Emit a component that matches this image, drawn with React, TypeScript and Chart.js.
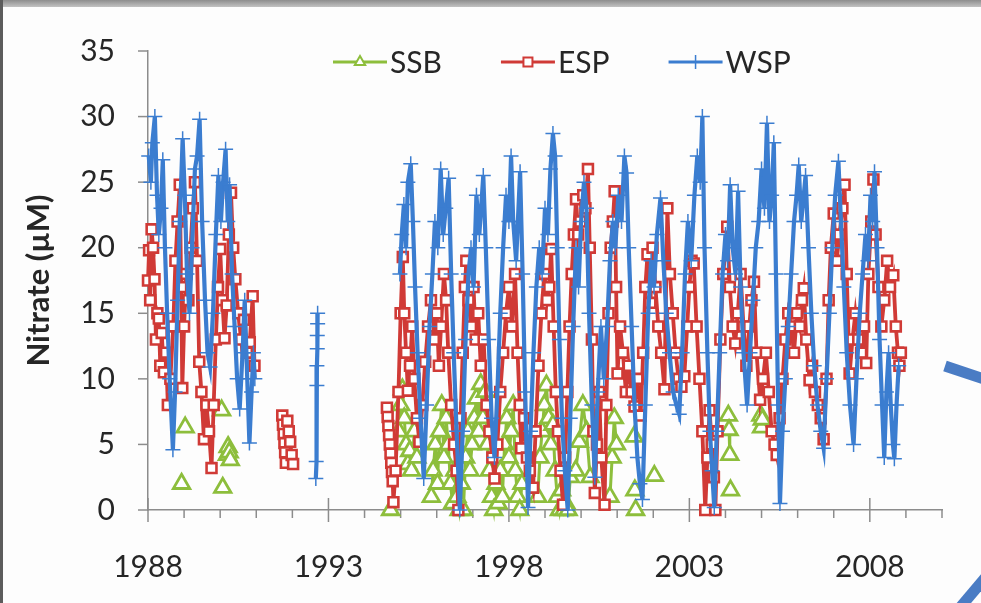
import React, { useEffect, useRef } from "react";
import { Chart, registerables } from "chart.js";

Chart.register(...registerables);

// ---------- data ----------
const X_MIN = 1988;
const X_MAX = 2010;
const Y_MIN = 0;
const Y_MAX = 35;
const Y_STEP = 5;
const xLabelYears = [1988, 1993, 1998, 2003, 2008];
const yAxisTitle = "Nitrate (µM)";
const seriesNames = ["SSB", "ESP", "WSP"];

type Pt = [number, number | null];

const ssbPoints: Pt[] = [
  [1988.93, 2.0], [1988.98, null], [1989.03, 6.3], [1989.5, null],
  [1990.04, 7.6], [1990.05, null], [1990.07, 1.7], [1990.12, null],
  [1990.2, 4.2], [1990.22, 4.8], [1990.25, 4.4], [1990.28, 3.8], [1991, null],
  [1994.72, 0], [1994.8, null],
  [1994.95, 6], [1995.0, 8], [1995.05, 9.2], [1995.1, 7], [1995.15, 5], [1995.2, 3.5], [1995.25, 4.5], [1995.3, 3], [1995.38, 6], [1995.45, 4], [1995.6, null],
  [1995.85, 1], [1995.9, 3], [1995.96, 5], [1996.02, 2], [1996.08, 6], [1996.14, 8], [1996.2, 4], [1996.26, 7], [1996.32, 5], [1996.38, 2], [1996.44, 0.5], [1996.5, 3], [1996.56, 1], [1996.62, 0], [1996.68, 2], [1996.74, 0], [1996.8, 4], [1996.86, 6], [1996.92, 3], [1996.98, 5], [1997.04, 7], [1997.1, 8.5], [1997.16, 6], [1997.22, 9.6], [1997.28, 7], [1997.34, 9], [1997.4, 5], [1997.46, 3], [1997.52, 1], [1997.58, 0], [1997.64, 2], [1997.7, 0.5], [1997.76, 3], [1997.82, 1], [1997.88, 5], [1997.94, 7], [1998.0, 4], [1998.06, 6], [1998.12, 8], [1998.18, 3], [1998.24, 1], [1998.3, 0], [1998.36, 2], [1998.5, null],
  [1998.8, 1], [1998.86, 4], [1998.92, 6], [1998.98, 8], [1999.04, 9.5], [1999.1, 7], [1999.16, 5], [1999.22, 6.5], [1999.28, 3], [1999.34, 1], [1999.4, 0], [1999.46, 1.5], [1999.52, 0], [1999.58, 0.5], [1999.64, 0], [1999.7, 2.5], [1999.77, null],
  [1999.85, 3], [1999.95, 5.2], [2000.05, 8], [2000.15, 6], [2000.25, 2.5], [2000.5, null],
  [2000.8, 1], [2000.86, 4], [2000.92, 7], [2000.98, 5], [2001.2, null],
  [2001.47, 5.6], [2001.48, null], [2001.49, 1.5], [2001.5, null], [2001.51, 0], [2001.7, null],
  [2002.03, 2.6], [2002.5, null],
  [2004.08, 7.2], [2004.1, 6.1], [2004.12, 4.2], [2004.13, null], [2004.14, 1.5], [2004.5, null],
  [2004.98, 7.2], [2005.0, 6.3], [2005.02, 6.9],
];

const espPoints: Pt[] = [
  [1988.0, 17.5], [1988.03, 19.8], [1988.06, 16], [1988.1, 21.4], [1988.14, 20], [1988.18, 17.6], [1988.22, 13], [1988.26, 15], [1988.3, 14.6], [1988.34, 11], [1988.38, 13.5], [1988.44, 10.5], [1988.5, 12], [1988.55, 8], [1988.62, 10], [1988.7, 14], [1988.76, 19], [1988.82, 22], [1988.88, 24.8], [1988.92, 17], [1988.95, 9.3], [1989.0, 14], [1989.06, 18], [1989.12, 16], [1989.18, 20], [1989.24, 23], [1989.3, 25], [1989.36, 19], [1989.42, 11.3], [1989.48, 9], [1989.55, 5.4], [1989.62, 8], [1989.69, 6], [1989.76, 3.2], [1989.82, 8], [1989.88, 13], [1989.94, 17], [1990.0, 19.9], [1990.06, 16], [1990.12, 13.1], [1990.18, 15.6], [1990.24, 21], [1990.3, 24.2], [1990.36, 20], [1990.42, 17.6], [1990.5, 15], [1990.58, 13], [1990.66, 14.5], [1990.74, 12], [1990.82, 12.8], [1990.9, 16.3], [1990.95, 11], [1991.3, null],
  [1991.72, 7.2], [1991.74, 6.5], [1991.76, 5.8], [1991.78, 5.1], [1991.8, 4.4], [1991.82, 3.6], [1991.86, 6.8], [1991.9, 6.0], [1991.94, 5.2], [1991.98, 4.2], [1992.02, 3.5], [1993, null],
  [1994.62, 7.8], [1994.64, 7.1], [1994.66, 6.4], [1994.68, 5.7], [1994.7, 5], [1994.72, 4.3], [1994.74, 3.6], [1994.76, 2.9], [1994.78, 2.2], [1994.8, 0.6], [1994.86, 3], [1994.94, 9], [1995.0, 15], [1995.06, 19.3], [1995.1, 15], [1995.15, 12], [1995.2, 9.1], [1995.26, 11], [1995.32, 14], [1995.38, 10], [1995.45, 7], [1995.52, 5.2], [1995.6, 8], [1995.68, 11.3], [1995.76, 14], [1995.84, 16], [1995.92, 13], [1996.0, 15], [1996.06, 11], [1996.12, 14], [1996.2, 18], [1996.26, 16], [1996.32, 12], [1996.4, 8], [1996.48, 5], [1996.55, 3], [1996.6, 0], [1996.66, 7], [1996.72, 12], [1996.78, 17], [1996.82, 19], [1996.88, 16], [1996.95, 14], [1997.02, 17], [1997.08, 13], [1997.15, 15], [1997.22, 11], [1997.3, 13], [1997.38, 8], [1997.46, 6], [1997.54, 4], [1997.6, 2.4], [1997.68, 5], [1997.76, 9], [1997.84, 12], [1997.92, 15], [1998.0, 17], [1998.08, 14], [1998.17, 18], [1998.24, 12], [1998.3, 8], [1998.34, 4.7], [1998.42, 7], [1998.5, 4], [1998.58, 3], [1998.67, 1.7], [1998.74, 6], [1998.82, 11], [1998.9, 15], [1998.98, 18], [1999.06, 16], [1999.12, 17], [1999.17, 19.9], [1999.24, 14], [1999.3, 9], [1999.36, 6], [1999.43, 3], [1999.5, 0.4], [1999.56, 4], [1999.62, 9], [1999.68, 14], [1999.74, 18], [1999.8, 21], [1999.86, 23.7], [1999.92, 21], [1999.98, 22], [2000.06, 24], [2000.12, 23], [2000.19, 26], [2000.24, 20], [2000.3, 13], [2000.34, 6], [2000.38, 1.3], [2000.44, 5], [2000.5, 9], [2000.56, 4], [2000.65, 0.4], [2000.7, 8], [2000.76, 15], [2000.82, 20], [2000.88, 22], [2000.93, 24.3], [2000.97, 17], [2001.01, 10.4], [2001.08, 14], [2001.16, 12], [2001.24, 9], [2001.32, 11], [2001.4, 9], [2001.48, 7.9], [2001.56, 10], [2001.65, 7.2], [2001.72, 12], [2001.78, 17], [2001.84, 19.5], [2001.92, 15.8], [2001.98, 20], [2002.06, 17], [2002.14, 14], [2002.22, 12], [2002.31, 9.2], [2002.39, 23], [2002.46, 18], [2002.54, 15], [2002.62, 12], [2002.7, 10], [2002.78, 9.4], [2002.86, 10.2], [2002.94, 14], [2003.0, 17], [2003.06, 19], [2003.12, 18.8], [2003.2, 14], [2003.28, 10], [2003.36, 6], [2003.44, 0], [2003.5, 4], [2003.56, 7.6], [2003.62, 5], [2003.68, 2.5], [2003.72, 0], [2003.78, 6], [2003.86, 13], [2003.94, 18], [2004.05, 21.6], [2004.12, 17], [2004.2, 14], [2004.27, 12.7], [2004.34, 15], [2004.42, 18], [2004.5, 14], [2004.58, 11], [2004.66, 14], [2004.72, 16], [2004.79, 17.4], [2004.86, 12], [2004.96, 8.4], [2005.04, 10], [2005.12, 12], [2005.2, 9], [2005.28, 6], [2005.36, 5], [2005.42, 4.2], [2005.5, 7], [2005.58, 10], [2005.66, 13], [2005.74, 15], [2005.82, 14], [2005.9, 12], [2005.98, 15], [2006.06, 14], [2006.12, 16], [2006.17, 16.9], [2006.24, 13], [2006.33, 9.9], [2006.4, 11], [2006.48, 9], [2006.56, 8], [2006.64, 7], [2006.72, 5.4], [2006.8, 10], [2006.86, 16], [2006.92, 20], [2007.0, 22.6], [2007.08, 19], [2007.16, 21], [2007.24, 23], [2007.3, 24.8], [2007.36, 18], [2007.44, 10.4], [2007.52, 13], [2007.6, 15], [2007.68, 13], [2007.76, 12], [2007.84, 14], [2007.9, 11.2], [2007.96, 18], [2008.04, 22], [2008.1, 25.2], [2008.16, 21], [2008.24, 17], [2008.32, 14], [2008.4, 16], [2008.48, 19], [2008.56, 17], [2008.65, 17.9], [2008.72, 14], [2008.78, 12], [2008.82, 11], [2008.86, 12],
];

const wspPoints: Pt[] = [
  [1988.02, 27], [1988.08, 25], [1988.12, 28], [1988.19, 30], [1988.25, 24], [1988.3, 21], [1988.36, 23], [1988.41, 26.7], [1988.47, 20], [1988.53, 15], [1988.6, 10], [1988.69, 4.6], [1988.75, 9], [1988.82, 16], [1988.88, 22], [1988.96, 28.3], [1989.02, 24], [1989.08, 18], [1989.15, 15], [1989.22, 20], [1989.3, 26], [1989.36, 27], [1989.43, 29.8], [1989.5, 22], [1989.58, 16], [1989.65, 12], [1989.72, 10.9], [1989.8, 15], [1989.88, 21], [1989.95, 25.5], [1990.02, 22], [1990.08, 25], [1990.15, 27.5], [1990.21, 22], [1990.26, 24.8], [1990.33, 18], [1990.4, 14], [1990.47, 10], [1990.54, 7.7], [1990.62, 12], [1990.68, 16], [1990.75, 10], [1990.81, 5.1], [1990.87, 9], [1990.92, 12], [1990.96, 10], [1991.5, null],
  [1992.7, 15], [1992.7, 14.2], [1992.69, 13.3], [1992.69, 12.3], [1992.68, 11], [1992.68, 9.5], [1992.66, 3.7], [1992.65, 2.4], [1993.5, null],
  [1994.98, 18], [1995.03, 21], [1995.09, 23.3], [1995.15, 20], [1995.2, 25], [1995.28, 26.4], [1995.34, 22], [1995.4, 17], [1995.47, 12], [1995.55, 7], [1995.64, 2.4], [1995.72, 8], [1995.8, 14], [1995.88, 18], [1995.95, 22], [1996.03, 20], [1996.11, 26], [1996.18, 21], [1996.25, 23], [1996.33, 25.3], [1996.4, 18], [1996.47, 12], [1996.55, 6], [1996.64, 0], [1996.72, 6], [1996.8, 13], [1996.88, 18], [1996.95, 20], [1997.02, 17], [1997.1, 24], [1997.18, 21], [1997.29, 25.5], [1997.36, 20], [1997.44, 13], [1997.52, 7], [1997.6, 4], [1997.68, 9], [1997.76, 15], [1997.84, 20], [1997.92, 24], [1998.0, 22], [1998.06, 27], [1998.12, 22], [1998.2, 19], [1998.31, 25.8], [1998.38, 18], [1998.45, 9], [1998.53, 0.2], [1998.6, 6], [1998.68, 12], [1998.76, 17], [1998.84, 20], [1998.92, 18], [1999.0, 23], [1999.08, 21], [1999.15, 26], [1999.22, 28.7], [1999.28, 27], [1999.34, 20], [1999.4, 13], [1999.47, 7], [1999.55, 3], [1999.63, 0], [1999.7, 7], [1999.78, 14], [1999.86, 20], [1999.93, 17], [2000.0, 22], [2000.08, 25], [2000.15, 23], [2000.22, 15], [2000.3, 8], [2000.38, 2.5], [2000.46, 9], [2000.55, 14], [2000.63, 10], [2000.72, 14], [2000.8, 19], [2000.88, 22], [2000.95, 20], [2001.03, 24], [2001.12, 22], [2001.2, 27], [2001.26, 25.7], [2001.32, 20], [2001.4, 14], [2001.48, 8], [2001.56, 4], [2001.63, 2], [2001.7, 0.8], [2001.78, 8], [2001.86, 15], [2001.94, 19], [2002.02, 17], [2002.1, 21], [2002.2, 23.8], [2002.28, 19], [2002.36, 15], [2002.45, 12], [2002.55, 9], [2002.64, 8], [2002.72, 7.3], [2002.8, 12], [2002.88, 18], [2002.96, 22], [2003.05, 19], [2003.14, 24], [2003.22, 27], [2003.3, 25], [2003.36, 30], [2003.42, 20], [2003.5, 12], [2003.57, 6], [2003.63, 3], [2003.69, 0.2], [2003.76, 6], [2003.84, 12], [2003.92, 18], [2004.0, 21], [2004.06, 19], [2004.13, 24.8], [2004.2, 20], [2004.28, 18], [2004.35, 24.3], [2004.42, 17], [2004.5, 12], [2004.6, 8], [2004.68, 12], [2004.76, 16], [2004.84, 20], [2004.92, 22], [2005.0, 26], [2005.08, 23], [2005.15, 29.5], [2005.22, 22], [2005.28, 24], [2005.34, 28], [2005.4, 18], [2005.46, 8], [2005.51, 0.5], [2005.58, 6], [2005.66, 10], [2005.74, 14], [2005.82, 18], [2005.9, 22], [2005.97, 24], [2006.03, 26.3], [2006.1, 22], [2006.17, 24], [2006.22, 25.5], [2006.3, 20], [2006.38, 15], [2006.46, 11], [2006.55, 8], [2006.64, 6], [2006.72, 4.7], [2006.8, 10], [2006.88, 15], [2006.96, 20], [2007.04, 24], [2007.13, 26.6], [2007.2, 22], [2007.28, 17], [2007.36, 12], [2007.45, 8], [2007.55, 5], [2007.63, 10], [2007.72, 15], [2007.8, 18], [2007.88, 21], [2007.95, 19], [2008.02, 24], [2008.08, 22], [2008.13, 25.8], [2008.2, 20], [2008.27, 13], [2008.34, 8], [2008.4, 4], [2008.46, 9], [2008.52, 12], [2008.58, 8], [2008.64, 5], [2008.68, 3.9], [2008.74, 8], [2008.8, 11],
];

// ---------- styles ----------
const COLORS: Record<string, string> = {
  SSB: "#8DBE3C",
  ESP: "#D03A36",
  WSP: "#3B7DD0",
};
const AXIS_COLOR = "#8c8c8c";
const TEXT_COLOR = "#262626";
const FONT = "Lato";

function drawMarker(ctx: CanvasRenderingContext2D, kind: string, x: number, y: number, r: number) {
  ctx.beginPath();
  if (kind === "triangle") {
    ctx.moveTo(x, y - r);
    ctx.lineTo(x + r * 0.866, y + r * 0.5);
    ctx.lineTo(x - r * 0.866, y + r * 0.5);
    ctx.closePath();
    ctx.fillStyle = "#fff";
    ctx.fill();
    ctx.stroke();
  } else if (kind === "rect") {
    ctx.rect(x - r, y - r, 2 * r, 2 * r);
    ctx.fillStyle = "#fff";
    ctx.fill();
    ctx.stroke();
  } else {
    ctx.moveTo(x - r, y);
    ctx.lineTo(x + r, y);
    ctx.moveTo(x, y - r);
    ctx.lineTo(x, y + r);
    ctx.stroke();
  }
}

const legendPlugin = {
  id: "customLegend",
  afterDraw(chart: any) {
    const ctx = chart.ctx as CanvasRenderingContext2D;
    const items = [
      { name: seriesNames[0], kind: "triangle", r: 6, lw: 3 },
      { name: seriesNames[1], kind: "rect", r: 4.5, lw: 3 },
      { name: seriesNames[2], kind: "cross", r: 7, lw: 3 },
    ];
    let x = 333;
    const y = 62;
    ctx.save();
    ctx.font = `30px ${FONT}`;
    ctx.textBaseline = "middle";
    items.forEach((it) => {
      const c = COLORS[it.name];
      ctx.strokeStyle = c;
      ctx.lineWidth = it.lw;
      ctx.beginPath();
      ctx.moveTo(x, y);
      ctx.lineTo(x + 54, y);
      ctx.stroke();
      ctx.lineWidth = it.kind === "cross" ? 1.5 : 2;
      drawMarker(ctx, it.kind, x + 27, y, it.r);
      ctx.fillStyle = TEXT_COLOR;
      ctx.fillText(it.name, x + 57, y + 1);
      x += 57 + ctx.measureText(it.name).width + 59;
    });
    ctx.restore();
  },
};

const axisTickPlugin = {
  id: "axisTicks",
  beforeDatasetsDraw(chart: any) {
    const { ctx, chartArea, scales } = chart;
    const xs = scales.x;
    const ys = scales.y;
    ctx.save();
    ctx.strokeStyle = AXIS_COLOR;
    ctx.lineWidth = 1.5;
    xs.ticks.forEach((t: any) => {
      const px = xs.getPixelForValue(t.value);
      const major = xLabelYears.includes(Math.round(t.value));
      ctx.beginPath();
      ctx.moveTo(px, major ? chartArea.bottom - 12 : chartArea.bottom);
      ctx.lineTo(px, chartArea.bottom + (major ? 12 : 8));
      ctx.stroke();
    });
    ys.ticks.forEach((t: any) => {
      const py = ys.getPixelForValue(t.value);
      ctx.beginPath();
      ctx.moveTo(chartArea.left - 10, py);
      ctx.lineTo(chartArea.left, py);
      ctx.stroke();
    });
    ctx.restore();
  },
};

const decorPlugin = {
  id: "decor",
  afterDraw(chart: any) {
    const ctx = chart.ctx as CanvasRenderingContext2D;
    ctx.save();
    ctx.strokeStyle = "#4A7CC4";
    ctx.lineWidth = 11;
    ctx.beginPath();
    ctx.moveTo(945, 366);
    ctx.lineTo(990, 381);
    ctx.stroke();
    ctx.beginPath();
    ctx.moveTo(958, 610);
    ctx.lineTo(990, 572);
    ctx.stroke();
    ctx.restore();
  },
};

function toData(pts: Pt[]) {
  return pts.map(([x, y]) => ({ x, y }));
}

export default function App() {
  const ref = useRef<HTMLCanvasElement | null>(null);

  useEffect(() => {
    if (!ref.current) return;
    const chart = new Chart(ref.current, {
      type: "line",
      data: {
        datasets: [
          {
            label: seriesNames[0],
            data: toData(ssbPoints),
            borderColor: COLORS.SSB,
            backgroundColor: "#ffffff",
            borderWidth: 3,
            pointStyle: "triangle",
            pointRadius: 9.5,
            pointBorderWidth: 2.8,
            pointBorderColor: COLORS.SSB,
            pointBackgroundColor: "#ffffff",
            spanGaps: false,
            tension: 0,
            order: 2,
            clip: false as any,
          },
          {
            label: seriesNames[1],
            data: toData(espPoints),
            borderColor: COLORS.ESP,
            backgroundColor: "#ffffff",
            borderWidth: 3.8,
            pointStyle: "rect",
            pointRadius: 7,
            pointBorderWidth: 2.6,
            pointBorderColor: COLORS.ESP,
            pointBackgroundColor: "#ffffff",
            spanGaps: false,
            tension: 0,
            order: 1,
            clip: false as any,
          },
          {
            label: seriesNames[2],
            data: toData(wspPoints),
            borderColor: COLORS.WSP,
            backgroundColor: COLORS.WSP,
            borderWidth: 4.2,
            pointStyle: "cross",
            pointRadius: 7.5,
            pointBorderWidth: 1.5,
            pointBorderColor: COLORS.WSP,
            spanGaps: false,
            tension: 0,
            order: 0,
            clip: false as any,
          },
        ],
      },
      options: {
        responsive: false,
        animation: false,
        devicePixelRatio: 1,
        layout: { padding: { left: 0, right: 35, top: 38, bottom: 0 } },
        plugins: {
          legend: { display: false },
          tooltip: { enabled: false },
        },
        scales: {
          x: {
            type: "linear",
            min: X_MIN,
            max: X_MAX,
            grid: { display: false, drawTicks: false },
            border: { display: true, color: AXIS_COLOR, width: 1.5 },
            ticks: {
              stepSize: 1,
              autoSkip: false,
              maxRotation: 0,
              padding: 39,
              color: TEXT_COLOR,
              font: { family: FONT, size: 30 },
              callback: (v: any) => {
                const n = Math.round(Number(v));
                return xLabelYears.includes(n) ? String(n) : "";
              },
            },
            afterFit: (s: any) => {
              s.height = 93;
            },
          },
          y: {
            type: "linear",
            min: Y_MIN,
            max: Y_MAX,
            grid: { display: false, drawTicks: false },
            border: { display: true, color: AXIS_COLOR, width: 1.5 },
            ticks: {
              stepSize: Y_STEP,
              padding: 33,
              color: TEXT_COLOR,
              font: { family: FONT, size: 30 },
            },
            title: {
              display: true,
              text: yAxisTitle,
              color: TEXT_COLOR,
              font: { family: FONT, size: 31, weight: "bold" },
              padding: { top: 20, bottom: 0 },
            },
            afterFit: (s: any) => {
              s.width = 148;
            },
          },
        },
      } as any,
      plugins: [axisTickPlugin, legendPlugin, decorPlugin],
    });
    return () => chart.destroy();
  }, []);

  return (
    <div
      style={{
        position: "fixed",
        left: 0,
        top: 0,
        width: 981,
        height: 603,
        background: "#fdfdfd",
        overflow: "hidden",
      }}
    >
      <div
        style={{
          position: "absolute",
          left: 0,
          top: 0,
          width: "100%",
          height: 7,
          background: "linear-gradient(#8e8e8e, #c2c2c2)",
        }}
      />
      <div
        style={{
          position: "absolute",
          left: 0,
          top: 0,
          width: 3,
          height: "100%",
          background: "#5c5c5c",
        }}
      />
      <canvas
        ref={ref}
        width={981}
        height={603}
        style={{ position: "absolute", left: 0, top: 0, width: 981, height: 603 }}
      />
    </div>
  );
}
